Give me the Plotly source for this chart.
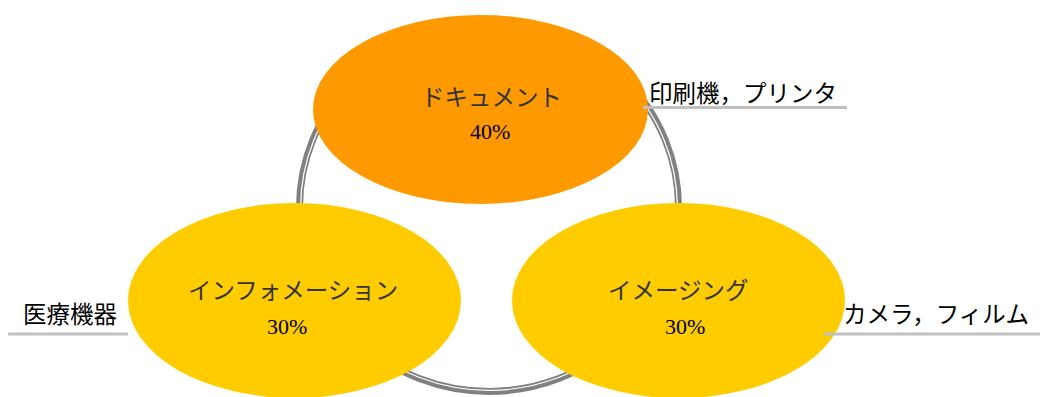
import plotly.graph_objects as go

# Market segments, their shares and typical applications
segments = ["ドキュメント", "インフォメーション", "イメージング"]
shares = [40, 30, 30]
applications = ["印刷機，プリンタ", "医療機器", "カメラ，フィルム"]

W, H = 1040, 397

# Layout of each bubble: ellipse box (x0, y0, x1, y1), fill colour,
# title position, share position
bubbles = [
    dict(box=(313, 15, 648, 204), fill="#FF9900", title=(491, 96), share=(490, 131)),
    dict(box=(128, 203, 461, 398), fill="#FFCC00", title=(293, 289), share=(287, 326)),
    dict(box=(512, 203, 845, 398), fill="#FFCC00", title=(678, 289), share=(685, 326)),
]

# Application labels: text anchor, alignment, underline span and height
app_labels = [
    dict(pos=(647, 92), align="left", line=(643, 847, 107.5)),
    dict(pos=(119, 313), align="right", line=(8, 128, 334)),
    dict(pos=(841, 313), align="left", line=(824, 1040, 334)),
]

fig = go.Figure()
shapes = []
annotations = []

# Double grey ring linking the three segments
ring = dict(x0=296, y0=20, x1=682, y1=395)
t = 3.5
shapes.append(dict(type="circle", xref="x", yref="y",
                   x0=ring["x0"] + t, y0=ring["y0"] + t,
                   x1=ring["x1"] - t, y1=ring["y1"] - t,
                   line=dict(color="#808080", width=7), layer="above"))
t2 = 4.6
shapes.append(dict(type="circle", xref="x", yref="y",
                   x0=ring["x0"] + t2, y0=ring["y0"] + t2,
                   x1=ring["x1"] - t2, y1=ring["y1"] - t2,
                   line=dict(color="#FFFFFF", width=1.2), layer="above"))

# Segment bubbles
for b in bubbles:
    x0, y0, x1, y1 = b["box"]
    shapes.append(dict(type="circle", xref="x", yref="y",
                       x0=x0, y0=y0, x1=x1, y1=y1,
                       fillcolor=b["fill"], line=dict(width=0), layer="above"))

for name, share, b in zip(segments, shares, bubbles):
    annotations.append(dict(x=b["title"][0], y=b["title"][1], xref="x", yref="y",
                            text=name, showarrow=False,
                            font=dict(family="Noto Sans CJK JP", size=23.5, color="#333333")))
    annotations.append(dict(x=b["share"][0], y=b["share"][1], xref="x", yref="y",
                            text=f"{share}%", showarrow=False,
                            font=dict(family="Liberation Serif", size=22, color="#000000")))

# Application labels with grey underlines
for text, lab in zip(applications, app_labels):
    xa, xb, yl = lab["line"]
    shapes.append(dict(type="line", xref="x", yref="y", x0=xa, x1=xb, y0=yl, y1=yl,
                       line=dict(color="#C0C0C0", width=3), layer="above"))
    annotations.append(dict(x=lab["pos"][0], y=lab["pos"][1], xref="x", yref="y",
                            text=text, showarrow=False,
                            xanchor=lab["align"], yanchor="middle",
                            font=dict(family="Noto Sans CJK JP", size=23.5, color="#000000")))

fig.update_layout(
    width=W, height=H,
    margin=dict(l=0, r=0, t=0, b=0),
    paper_bgcolor="white", plot_bgcolor="white",
    xaxis=dict(range=[0, W], visible=False, fixedrange=True),
    yaxis=dict(range=[H, 0], visible=False, fixedrange=True),
    shapes=shapes, annotations=annotations,
    showlegend=False,
)

fig.write_html("out.html")
